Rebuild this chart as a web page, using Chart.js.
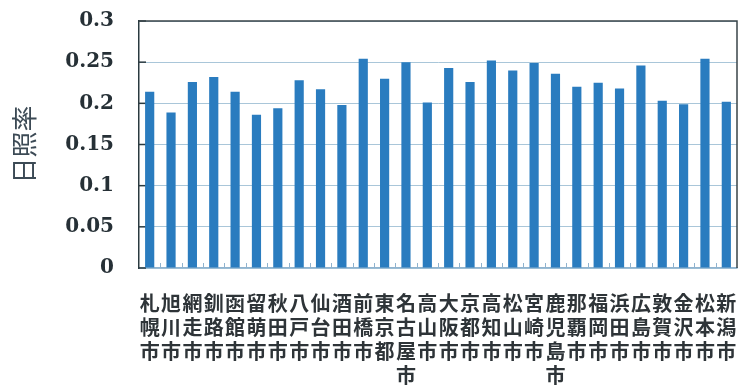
<!DOCTYPE html>
<html>
<head>
<meta charset="utf-8">
<script src="https://cdn.jsdelivr.net/npm/chart.js@4"></script>
<style>
  html, body { margin: 0; padding: 0; background: #fff; }
  #wrap { width: 740px; height: 387px; }
</style>
</head>
<body>
<div id="wrap"><canvas id="c"></canvas></div>
<script>
// 都市名（縦書きにするため1文字ずつ改行）
const cities = ['札幌市','旭川市','網走市','釧路市','函館市','留萌市','秋田市','八戸市','仙台市','酒田市',
  '前橋市','東京都','名古屋市','高山市','大阪市','京都市','高知市','松山市','宮崎市','鹿児島市',
  '那覇市','福岡市','浜田市','広島市','敦賀市','金沢市','松本市','新潟市'];

// 日照率
const sunshineRate = [0.214, 0.189, 0.226, 0.232, 0.214, 0.186, 0.194, 0.228, 0.217, 0.198,
  0.254, 0.230, 0.250, 0.201, 0.243, 0.226, 0.252, 0.240, 0.249, 0.236,
  0.220, 0.225, 0.218, 0.246, 0.203, 0.199, 0.254, 0.202];

// 縦軸の目盛
const yTicks = [0, 0.05, 0.1, 0.15, 0.2, 0.25, 0.3];
const yTitle = '日照率';

const verticalLabels = cities.map(name => name.split(''));

// 枠線と内向きの目盛線
const frame = {
  id: 'frame',
  beforeDatasetsDraw(chart) {
    const { ctx, chartArea: a, scales: { x, y } } = chart;
    ctx.save();
    ctx.strokeStyle = '#8fb3cf';
    ctx.lineWidth = 1;
    for (let i = 1; i < cities.length; i++) {
      const px = Math.round(x.getPixelForValue(i - 0.5)) + 0.5;
      ctx.beginPath();
      ctx.moveTo(px, a.bottom);
      ctx.lineTo(px, a.bottom - 5);
      ctx.stroke();
    }
    ctx.strokeStyle = '#2a3a40';
    ctx.lineWidth = 1.5;
    yTicks.forEach(v => {
      const py = y.getPixelForValue(v);
      ctx.beginPath();
      ctx.moveTo(a.left, py);
      ctx.lineTo(a.left + 7, py);
      ctx.stroke();
    });
    ctx.restore();
  },
  afterDraw(chart) {
    const { ctx, chartArea: a } = chart;
    ctx.save();
    ctx.strokeStyle = '#3a4448';
    ctx.lineWidth = 1.5;
    ctx.beginPath();
    ctx.moveTo(a.left, a.top);
    ctx.lineTo(a.right, a.top);
    ctx.lineTo(a.right, a.bottom);
    ctx.stroke();
    ctx.restore();
  }
};

new Chart(document.getElementById('c'), {
  type: 'bar',
  data: {
    labels: verticalLabels,
    datasets: [{
      data: sunshineRate,
      backgroundColor: '#2a7cbf',
      categoryPercentage: 1,
      barPercentage: 0.43
    }]
  },
  options: {
    responsive: true,
    maintainAspectRatio: false,
    animation: false,
    devicePixelRatio: 1,
    layout: { padding: { left: 0, right: 3, top: 21, bottom: 0 } },
    plugins: { legend: { display: false }, tooltip: { enabled: false } },
    scales: {
      x: {
        afterFit(scale) {
          scale.height = 119;
          scale.paddingLeft = 0;
          scale.paddingRight = 0;
        },
        grid: { display: false, drawTicks: false },
        border: { display: true, color: '#8fb3cf', width: 1.5 },
        ticks: {
          autoSkip: false,
          maxRotation: 0,
          minRotation: 0,
          padding: 23,
          color: '#2e3438',
          font: { family: '"Noto Sans CJK JP"', size: 20, weight: 'bold', lineHeight: 1.2 }
        }
      },
      y: {
        min: 0,
        max: 0.3,
        afterFit(scale) {
          scale.width = 139;
          scale.paddingTop = 0;
          scale.paddingBottom = 0;
        },
        afterBuildTicks(scale) { scale.ticks = yTicks.map(v => ({ value: v })); },
        grid: { color: '#a9c6d9', lineWidth: 1, drawTicks: false },
        border: { display: true, color: '#2a3a40', width: 1.5 },
        ticks: {
          padding: 25,
          color: '#263036',
          font: { family: '"DejaVu Serif"', size: 20, weight: 'bold' },
          callback: v => String(v)
        },
        title: {
          display: true,
          text: yTitle,
          color: '#3c4a55',
          padding: { top: 9, bottom: 0 },
          font: { family: '"Noto Sans CJK JP"', size: 26, lineHeight: 1.2 }
        }
      }
    }
  },
  plugins: [frame]
});
</script>
</body>
</html>
